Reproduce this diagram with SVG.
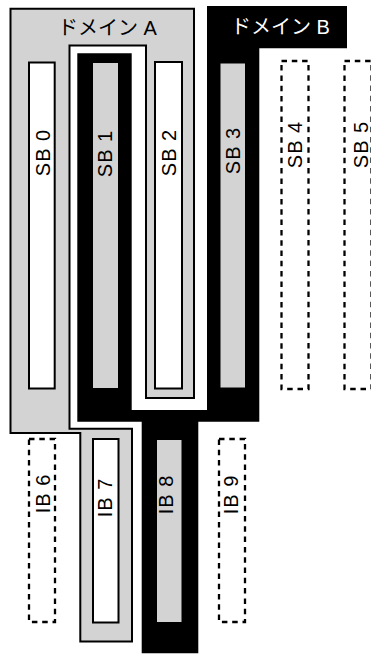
<svg xmlns="http://www.w3.org/2000/svg" width="371" height="654" viewBox="0 0 371 654">
<style>
.bg{fill:#ffffff}
.domA{fill:#d3d3d3;stroke:#000;stroke-width:2;stroke-linejoin:miter}
.domB{fill:#000}
.white{fill:#fff;stroke:#000;stroke-width:2}
.gray{fill:#d3d3d3;stroke:none}
.dash{fill:none;stroke:#000;stroke-width:2.3;stroke-dasharray:5.5 4.8}
.lbl{font-family:"Liberation Sans","Noto Sans CJK JP",sans-serif;font-size:20px;letter-spacing:1px;text-anchor:middle}
.dlbl{font-family:"Liberation Sans","Noto Sans CJK JP",sans-serif;font-size:20px;text-anchor:middle}
</style>
<rect class="bg" x="0" y="0" width="371" height="654"/>
<g id="domainA">
<path class="domA" d="M10.5,8.7 H194 V398 H146 V45.5 H69.5 V428.7 H132 V641.5 H80.3 V433 H10.5 Z"/>
<text class="dlbl" x="107.5" y="35" fill="#000">ドメイン A</text>
</g>
<g id="domainB">
<path class="domB" d="M207,6 H347 V48.3 H259.3 V421.7 H198.3 V653.3 H141.7 V421.7 H77.3 V53.3 H131.7 V410 H207 Z"/>
<text class="dlbl" x="280.5" y="34" fill="#fff">ドメイン B</text>
</g>
<g id="connectors"></g>
<g id="SB0">
<rect class="white" x="29" y="62.5" width="25.7" height="326"/>
<text class="lbl" transform="translate(49.5,152.5) rotate(-90)">SB 0</text>
</g>
<g id="SB1">
<rect class="gray" x="93" y="63" width="25" height="325"/>
<text class="lbl" transform="translate(112,153.5) rotate(-90)">SB 1</text>
</g>
<g id="SB2">
<rect class="white" x="155" y="62" width="27" height="326.5"/>
<text class="lbl" transform="translate(175.5,152.5) rotate(-90)">SB 2</text>
</g>
<g id="SB3">
<rect class="gray" x="220.5" y="63.5" width="24.5" height="324"/>
<text class="lbl" transform="translate(240,150.5) rotate(-90)">SB 3</text>
</g>
<g id="SB4">
<rect class="dash" x="281.5" y="61" width="27" height="328"/>
<text class="lbl" transform="translate(302,144.5) rotate(-90)">SB 4</text>
</g>
<g id="SB5">
<rect class="dash" x="344.5" y="61" width="27" height="328"/>
<text class="lbl" transform="translate(368,144.5) rotate(-90)">SB 5</text>
</g>
<g id="IB6">
<rect class="dash" x="29" y="439" width="26" height="183"/>
<text class="lbl" transform="translate(50,493.5) rotate(-90)">IB 6</text>
</g>
<g id="IB7">
<rect class="white" x="93" y="439" width="25.5" height="183.5"/>
<text class="lbl" transform="translate(111.7,497.5) rotate(-90)">IB 7</text>
</g>
<g id="IB8">
<rect class="gray" x="157" y="440" width="24.5" height="182"/>
<text class="lbl" transform="translate(173,494.5) rotate(-90)">IB 8</text>
</g>
<g id="IB9">
<rect class="dash" x="219" y="439" width="26" height="183"/>
<text class="lbl" transform="translate(238,494.5) rotate(-90)">IB 9</text>
</g>
</svg>
